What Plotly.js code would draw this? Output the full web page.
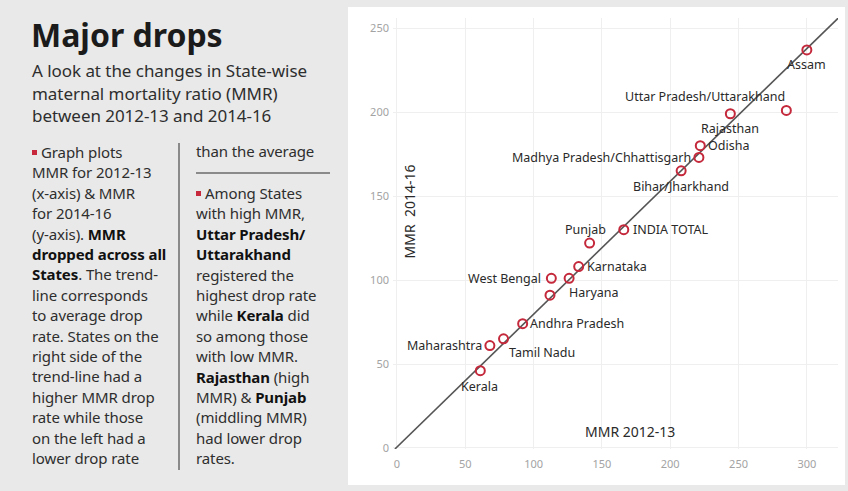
<!DOCTYPE html>
<html>
<head>
<meta charset="utf-8">
<script src="https://cdn.plot.ly/plotly-3.0.1.min.js"></script>
<style>
  html, body { margin:0; padding:0; }
  body { width:848px; height:491px; background:#e9e9e9; position:relative; overflow:hidden; font-family:"Noto Sans", sans-serif; color:#333; }
  #title { position:absolute; left:31px; top:16px; font-size:32px; font-weight:700; color:#1b1b1b; line-height:38px; }
  #sub { position:absolute; left:32px; top:60px; font-size:17px; line-height:22.6px; color:#2e2e2e; letter-spacing:-0.05px; }
  .col { position:absolute; font-size:15px; line-height:20.4px; color:#2e2e2e; letter-spacing:-0.1px; white-space:nowrap; }
  .col b { color:#111; }
  .bul { display:inline-block; width:5px; height:5px; background:#c8283c; margin-right:4px; vertical-align:3px; }
  #c1 { left:32px; top:142px; }
  #c2a { left:196px; top:141px; }
  #c2b { left:196px; top:183px; }
  #vsep { position:absolute; left:178px; top:143px; width:1.5px; height:327px; background:#8a8a8a; }
  #hsep { position:absolute; left:196px; top:172px; width:134px; height:2px; background:#8a8a8a; }
  #chart { position:absolute; left:348px; top:7px; width:497px; height:478px; background:#fff; }
</style>
</head>
<body>
<div id="title">Major drops</div>
<div id="sub">A look at the changes in State-wise<br>maternal mortality ratio (MMR)<br>between 2012-13 and 2014-16</div>
<div class="col" id="c1"><span class="bul"></span>Graph plots<br>MMR for 2012-13<br>(x-axis) &amp; MMR<br>for 2014-16<br>(y-axis). <b>MMR</b><br><b>dropped across all</b><br><b>States</b>. The trend-<br>line corresponds<br>to average drop<br>rate. States on the<br>right side of the<br>trend-line had a<br>higher MMR drop<br>rate while those<br>on the left had a<br>lower drop rate</div>
<div id="vsep"></div>
<div class="col" id="c2a">than the average</div>
<div id="hsep"></div>
<div class="col" id="c2b"><span class="bul"></span>Among States<br>with high MMR,<br><b>Uttar Pradesh/</b><br><b>Uttarakhand</b><br>registered the<br>highest drop rate<br>while <b>Kerala</b> did<br>so among those<br>with low MMR.<br><b>Rajasthan</b> (high<br>MMR) &amp; <b>Punjab</b><br>(middling MMR)<br>had lower drop<br>rates.</div>
<div id="chart"></div>
<script>
// ---- data ----
const states = ['Assam','Uttar Pradesh/Uttarakhand','Rajasthan','Odisha','Madhya Pradesh/Chhattisgarh','Bihar/Jharkhand','INDIA TOTAL','Punjab','Karnataka','West Bengal','Haryana','Gujarat','Andhra Pradesh','Tamil Nadu','Maharashtra','Kerala'];
const mmr2012_13 = [300, 285, 244, 222, 221, 208, 166, 141, 133, 113, 126, 112, 92, 78, 68, 61];
const mmr2014_16 = [237, 201, 199, 180, 173, 165, 130, 122, 108, 101, 101, 91, 74, 65, 61, 46];
const showLabel = [true, true, true, true, true, true, true, true, true, true, true, false, true, true, true, true];
// trend line (average drop rate), endpoints
const trendX = [-1.5, 323];
const trendY = [-0.6, 256];
const xTicks = [0, 50, 100, 150, 200, 250, 300];
const yTicks = [0, 50, 100, 150, 200, 250];

// ---- label placement (style only) ----
const labelPlace = {
  'Assam': {xa:'center', dx:0, dy:-15},
  'Uttar Pradesh/Uttarakhand': {xa:'right', dx:1, dy:14},
  'Rajasthan': {xa:'center', dx:0, dy:-15},
  'Odisha': {xa:'left', dx:6, dy:0},
  'Madhya Pradesh/Chhattisgarh': {xa:'right', dx:-6, dy:0},
  'Bihar/Jharkhand': {xa:'center', dx:0, dy:-16},
  'INDIA TOTAL': {xa:'left', dx:7, dy:0},
  'Punjab': {xa:'center', dx:-4, dy:14},
  'Karnataka': {xa:'left', dx:6, dy:0},
  'West Bengal': {xa:'right', dx:-8, dy:0},
  'Haryana': {xa:'left', dx:-2, dy:-14},
  'Andhra Pradesh': {xa:'left', dx:5, dy:0},
  'Tamil Nadu': {xa:'left', dx:3, dy:-14},
  'Maharashtra': {xa:'right', dx:-6, dy:0},
  'Kerala': {xa:'center', dx:-1, dy:-16}
};

const red = '#c4283b';
const traces = [
  {x: trendX, y: trendY, mode:'lines', line:{color:'#555', width:1.6}, hoverinfo:'skip', showlegend:false},
  {x: mmr2012_13, y: mmr2014_16, mode:'markers', text: states,
   marker:{symbol:'circle-open', size:9, color:red, line:{color:red, width:2}},
   showlegend:false}
];

const annotations = [];
states.forEach((s, i) => {
  if (!showLabel[i]) return;
  const p = labelPlace[s];
  annotations.push({x: mmr2012_13[i], y: mmr2014_16[i], xref:'x', yref:'y', text: s, showarrow:false,
    xanchor:p.xa, yanchor:'middle', xshift:p.dx, yshift:p.dy,
    font:{family:'Noto Sans, sans-serif', size:12.5, color:'#2a2a2a'}});
});
annotations.push({xref:'paper', yref:'paper', x:0.038, y:0.551, text:'MMR  2014-16', textangle:-90, showarrow:false,
  xanchor:'center', yanchor:'middle', font:{family:'Noto Sans, sans-serif', size:14, color:'#2a2a2a'}});
annotations.push({xref:'paper', yref:'paper', x:0.533, y:0.040, text:'MMR 2012-13', showarrow:false,
  xanchor:'center', yanchor:'middle', font:{family:'Noto Sans, sans-serif', size:14, color:'#2a2a2a'}});

const layout = {
  width: 497, height: 478,
  margin: {l:45, r:7, t:11, b:36},
  paper_bgcolor:'#fff', plot_bgcolor:'#fff',
  font:{family:'Noto Sans, sans-serif'},
  xaxis: {range:[-2.9, 322.8], tickvals:xTicks, showgrid:true, gridcolor:'#efefef', gridwidth:1,
    zeroline:false, showline:false, ticks:'', ticklabelstandoff:7,
    tickfont:{size:11, color:'#a3a3a3'}},
  yaxis: {range:[-0.6, 256], tickvals:yTicks, showgrid:true, gridcolor:'#efefef', gridwidth:1,
    zeroline:false, showline:false, ticks:'', ticklabelstandoff:3,
    tickfont:{size:11, color:'#a3a3a3'}},
  annotations: annotations,
  hovermode:false
};

Plotly.newPlot('chart', traces, layout, {staticPlot:true, displayModeBar:false});
</script>
</body>
</html>
